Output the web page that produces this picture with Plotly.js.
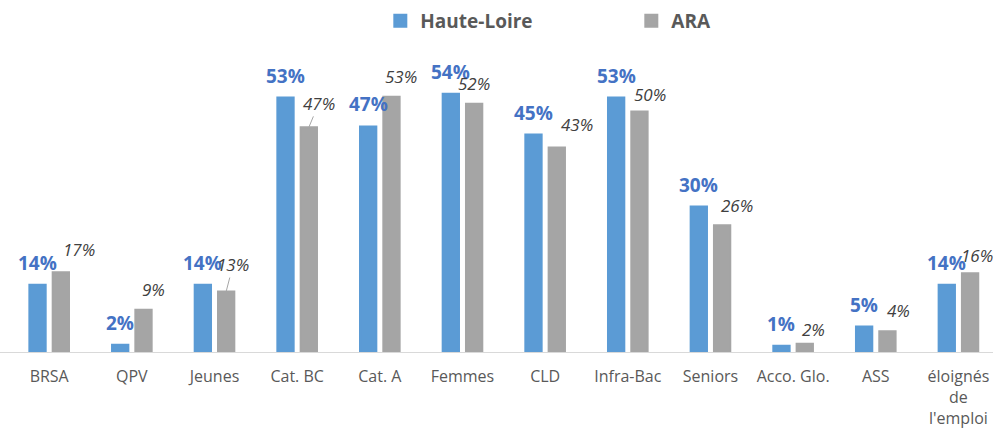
<!DOCTYPE html>
<html>
<head>
<meta charset="utf-8">
<script src="https://cdn.plot.ly/plotly-3.0.1.min.js"></script>
<style>html,body{margin:0;padding:0;background:#fff;}#chart{width:993px;height:434px;}</style>
</head>
<body>
<div id="chart"></div>
<script>
// ---- data ----
const categories = ["BRSA", "QPV", "Jeunes", "Cat. BC", "Cat. A", "Femmes", "CLD", "Infra-Bac", "Seniors", "Acco. Glo.", "ASS", "éloignés<br>de<br>l'emploi"];
const hauteLoire = [14.0, 1.5, 14.0, 53.0, 47.0, 53.8, 45.3, 53.0, 30.3, 1.3, 5.3, 14.0];
const ara = [16.6, 8.8, 12.6, 46.8, 53.2, 51.7, 42.6, 50.1, 26.4, 1.7, 4.3, 16.4];
const seriesNames = ["Haute-Loire", "ARA"];

// ---- label nudges (pixels) for ARA labels, as placed in the original ----
const araLabelDx = [18, 10, 7, 10, 10, 0, 20, 11, 15, 9, 11, 7];
const araLabelDy = [23, 20, 27, 24, 20, 20, 23, 17, 20, 14, 21, 18];
const araLeader = [false, false, true, true, false, false, false, false, false, false, false, false];

const BLUE = "#5B9BD5", GRAY = "#A5A5A5";
const FONT = "'Open Sans', sans-serif";
const xIdx = categories.map((c, i) => i);
const half = 0.141;

const traces = [
  {type: "bar", x: xIdx, y: hauteLoire, name: seriesNames[0], marker: {color: BLUE, line: {color: BLUE, width: 2}}, hoverinfo: "skip"},
  {type: "bar", x: xIdx, y: ara, name: seriesNames[1], marker: {color: GRAY, line: {color: GRAY, width: 2}}, hoverinfo: "skip"}
];

const annotations = [];
hauteLoire.forEach((v, i) => {
  annotations.push({
    x: i - half, y: v, xref: "x", yref: "y",
    text: "<b>" + Math.round(v) + "%</b>", showarrow: false,
    xanchor: "center", yanchor: "middle", yshift: 22,
    font: {family: FONT, size: 19, color: "#4472C4"}
  });
});
ara.forEach((v, i) => {
  annotations.push({
    x: i + half, y: v, xref: "x", yref: "y",
    text: "<i>" + Math.round(v) + "%</i>", showarrow: true,
    ax: araLabelDx[i], ay: -araLabelDy[i], arrowhead: 0, arrowwidth: 1,
    standoff: 0, startstandoff: 0,
    arrowcolor: araLeader[i] ? "#A6A6A6" : "rgba(0,0,0,0)",
    font: {family: FONT, size: 17, color: "#404040"}
  });
});

const layout = {
  width: 993, height: 434,
  margin: {l: 0, r: 0, t: 40, b: 82},
  paper_bgcolor: "#fff", plot_bgcolor: "#fff",
  barmode: "group", bargap: 0.436, bargroupgap: 0.30,
  font: {family: FONT, color: "#595959"},
  xaxis: {
    range: [-0.595, 11.418], tickmode: "array", tickvals: xIdx, ticktext: categories,
    showline: true, linecolor: "#D9D9D9", linewidth: 1, showgrid: false, zeroline: false,
    ticks: "", ticklabelstandoff: 10, layer: "above traces",
    tickfont: {family: FONT, size: 16, color: "#595959"}, fixedrange: true
  },
  yaxis: {range: [0, 65], visible: false, showgrid: false, zeroline: false, fixedrange: true},
  showlegend: true,
  legend: {
    orientation: "h", xref: "container", yref: "container",
    x: 0.383, y: 0.952, xanchor: "left", yanchor: "middle",
    entrywidth: 206, entrywidthmode: "pixels",
    font: {family: FONT, size: 19, color: "#595959", weight: "bold"}
  },
  annotations: annotations
};

Plotly.newPlot("chart", traces, layout, {displayModeBar: false, staticPlot: true});
</script>
</body>
</html>
